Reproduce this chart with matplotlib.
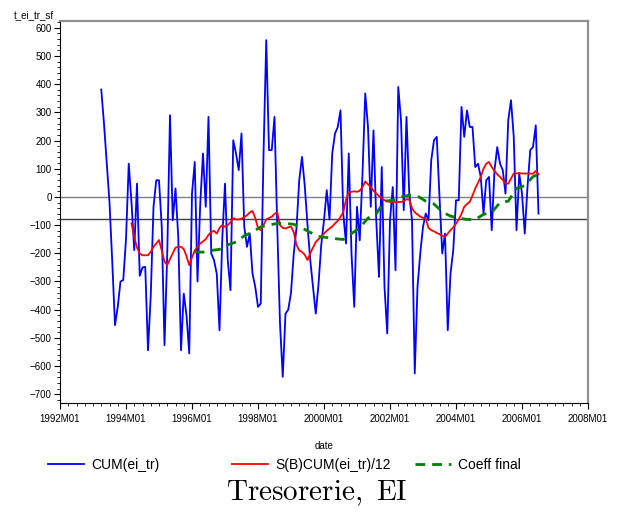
import matplotlib
matplotlib.use('Agg')
import matplotlib.pyplot as plt
from matplotlib.ticker import MultipleLocator, FixedLocator
import numpy as np

plt.rcParams['font.family'] = ['Liberation Sans', 'DejaVu Sans']
plt.rcParams['mathtext.fontset'] = 'cm'

# months counted from 1992M01 = 0
blue_start = 15   # 1993M04
blue_vals = [381, 260, 120, -20, -230, -455, -390, -300, -295, -150,
             118, -20, -189, 47, -280, -250, -248, -544, -350, -35,
             59, 59, -106, -526, -200, 290, -83, 30, -142, -544,
             -343, -420, -555, 12, 124, -300, -24, 154, -35, 284,
             -201, -224, -272, -473, -150, 47, -224, -331, 201, 154,
             95, 225, -106, -177, -130, -272, -319, -390, -378, 150,
             556, 166, 166, 284, -106, -450, -638, -414, -400, -340,
             -201, -110, 60, 142, 40, -100, -224, -320, -414, -310,
             -170, -83, 24, -80, 154, 225, 248, 307, -59, -165,
             154, -201, -390, -35, -154, 83, 367, 248, -35, 236,
             -83, -284, 106, -319, -484, -83, 35, -260, 390, 272,
             -47, 284, 12, -83, -626, -319, -201, -106, -59, -83,
             130, 201, 213, 0, -201, -130, -473, -272, -189, -12,
             -12, 319, 213, 307, 248, 248, 106, 118, 71, -59,
             59, 71, -118, 95, 177, 118, 95, 12, 272, 343,
             213, -118, 83, 12, -130, 35, 166, 177, 254, -59]

red_start = 26    # 1994M03
red_vals = [-94, -142, -180, -201, -207, -207, -207, -195, -177, -165,
            -153, -190, -230, -242, -220, -200, -180, -177, -177, -185,
            -210, -242, -215, -190, -177, -165, -158, -150, -135, -125,
            -120, -130, -110, -100, -106, -100, -90, -75, -80, -80,
            -77, -72, -65, -55, -50, -75, -110, -118, -100, -80,
            -75, -70, -60, -55, -100, -110, -112, -108, -105, -125,
            -170, -190, -195, -205, -224, -200, -180, -160, -150, -140,
            -130, -120, -112, -105, -94, -85, -71, -55, -10, 15,
            18, 20, 18, 22, 35, 55, 45, 35, 22, 12,
            3, -5, -12, -15, -18, -18, -18, -18, -18, -15,
            -8, -10, -40, -55, -62, -70, -74, -77, -110, -118,
            -122, -128, -132, -138, -142, -130, -118, -108, -95, -80,
            -60, -35, -25, -18, 5, 30, 50, 71, 100, 118,
            124, 106, 92, 80, 71, 60, 47, 47, 65, 83,
            83, 85, 83, 83, 83, 83, 82, 92, 80]

green_months = [49, 52, 55, 58, 61, 64, 67, 70, 73, 76, 79, 82, 85, 88, 91,
                94, 97, 100, 103, 106, 109, 112, 115, 118, 121, 124, 127,
                130, 133, 136, 139, 142, 145, 148, 151, 154, 157, 160, 163,
                166, 169, 172, 174]
green_vals = [-195, -196, -190, -186, -170, -160, -138, -125, -106, -100,
              -94, -94, -97, -110, -126, -140, -144, -148, -151, -130,
              -110, -75, -60, -15, -12, 0, 6, 3, -15, -25, -53, -68,
              -75, -80, -80, -62, -55, -20, -15, 30, 40, 72, 80]

ref_levels = [0, -77]
years = list(range(1992, 2009, 2))

bx = 1992 + (blue_start + np.arange(len(blue_vals))) / 12
rx = 1992 + (red_start + np.arange(len(red_vals))) / 12
gx = 1992 + np.array(green_months) / 12

fig = plt.figure(figsize=(6.18, 5.12), dpi=100)
ax = fig.add_axes([60/618, 109/512, 528/618, 382/512])

ax.axhline(ref_levels[0], color='#808080', lw=1.0, zorder=1)
ax.axhline(ref_levels[1], color='#404040', lw=1.0, zorder=1)

l1, = ax.plot(bx, blue_vals, color='#0000ff', lw=1.3, label='CUM(ei_tr)', zorder=2)
l2, = ax.plot(rx, red_vals, color='#ff0000', lw=1.3, label='S(B)CUM(ei_tr)/12', zorder=3)
l3, = ax.plot(gx, green_vals, color='#008000', lw=2.0, ls=(0, (3.5, 2.5)),
              label='Coeff final', zorder=4)

ax.set_xlim(1992, 2008)
ax.set_ylim(-731, 624)
ax.xaxis.set_major_locator(FixedLocator(years))
ax.set_xticklabels([f'{y}M01' for y in years])
ax.xaxis.set_minor_locator(MultipleLocator(0.25))
ax.yaxis.set_major_locator(MultipleLocator(100))
ax.yaxis.set_minor_locator(MultipleLocator(20))
ax.tick_params(which='major', direction='out', length=4, width=0.8, labelsize=7)
ax.tick_params(which='minor', direction='out', length=2.5, width=0.6)
ax.tick_params(axis='x', pad=4)
ax.tick_params(axis='y', pad=2)

for s in ['top', 'right']:
    ax.spines[s].set_color('#909090')
    ax.spines[s].set_linewidth(1.6)
for s in ['left', 'bottom']:
    ax.spines[s].set_linewidth(0.8)

ax.set_xlabel('date', fontsize=7, labelpad=12)
fig.text(14/618, 1 - 15/512, 't_ei_tr_sf', fontsize=7, va='center', ha='left')

for h, xpos in zip([l1, l2, l3], [48, 232, 415]):
    fig.legend(handles=[h], loc='center left', bbox_to_anchor=(xpos/618, 1 - 465/512),
               frameon=False, fontsize=10, handlelength=2.6, handletextpad=0.5,
               borderaxespad=0, borderpad=0)

fig.text(317/618, 1 - 493/512, r'$\mathrm{Tresorerie,\ EI}$', fontsize=21,
         ha='center', va='center')

fig.savefig('out.png', dpi=100)
